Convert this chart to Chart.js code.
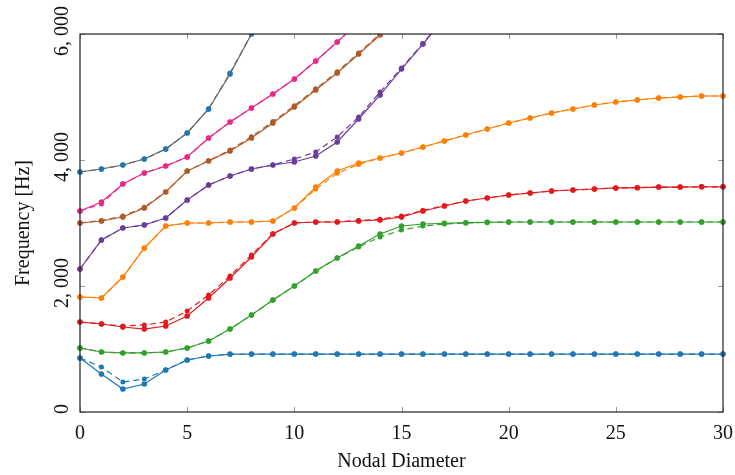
<!DOCTYPE html>
<html>
<head>
<meta charset="utf-8">
<script src="https://cdn.jsdelivr.net/npm/chart.js@4/dist/chart.umd.min.js"></script>
<style>
  html, body { margin: 0; padding: 0; background: #fff; }
  #wrap { width: 735px; height: 475px; }
</style>
</head>
<body>
<div id="wrap"><canvas id="modeChart"></canvas></div>
<script>
// nodal diameter (x axis)
const nodalDiameters = [0,1,2,3,4,5,6,7,8,9,10,11,12,13,14,15,16,17,18,19,20,21,22,23,24,25,26,27,28,29,30];
const yTicks = [0, 2000, 4000, 6000];

// family 1 (blue)
const mode1 = [857,603,365,444,667,825,889,920,920,920,920,920,920,920,920,920,920,920,920,920,920,920,920,920,920,920,920,920,920,920,920];
const mode1b = [857,714,476,524,667,825,889,915,920,920,920,920,920,920,920,920,920,920,920,920,920,920,920,920,920,920,920,920,920,920,920];
// family 2 (green)
const mode2 = [1016,952,937,937,952,1016,1127,1317,1540,1778,2000,2238,2444,2635,2825,2952,2984,2995,3005,3010,3016,3016,3016,3016,3016,3016,3016,3016,3016,3016,3016];
const mode2b = [1016,952,937,937,952,1016,1127,1317,1540,1778,2000,2238,2444,2620,2778,2889,2952,2984,3000,3010,3016,3016,3016,3016,3016,3016,3016,3016,3016,3016,3016];
// family 3 (red)
const mode3 = [1429,1397,1349,1317,1365,1524,1810,2127,2460,2825,3000,3016,3016,3032,3048,3095,3190,3270,3349,3397,3444,3476,3508,3524,3540,3556,3560,3571,3571,3575,3575];
const mode3b = [1429,1397,1365,1381,1429,1603,1857,2159,2492,2830,3000,3016,3020,3040,3060,3110,3200,3275,3349,3397,3444,3476,3508,3524,3540,3556,3560,3571,3571,3575,3575];
// family 4 (orange)
const mode4 = [1825,1810,2143,2603,2952,3000,3000,3016,3016,3032,3238,3571,3825,3952,4032,4111,4206,4302,4397,4492,4587,4667,4746,4810,4873,4921,4952,4984,5000,5016,5016];
const mode4b = [1825,1810,2143,2603,2952,3000,3000,3016,3016,3032,3238,3540,3790,3930,4032,4111,4206,4302,4397,4492,4587,4667,4746,4810,4873,4921,4952,4984,5000,5016,5016];
// family 5 (purple)
const mode5 = [2270,2730,2921,2968,3079,3365,3603,3746,3857,3921,3968,4063,4286,4651,5032,5444,5841,6250];
const mode5b = [2270,2730,2921,2968,3079,3365,3603,3746,3857,3921,4016,4127,4365,4683,5079,5460,5850,6260];
// family 6 (brown)
const mode6 = [3000,3032,3095,3238,3492,3825,3984,4143,4349,4587,4841,5111,5381,5683,5984,6290];
const mode6b = [3000,3040,3110,3250,3492,3825,3990,4160,4370,4610,4860,5130,5400,5700,6000,6300];
// family 7 (pink)
const mode7 = [3190,3333,3619,3794,3905,4048,4349,4603,4825,5048,5286,5571,5873,6190];
const mode7b = [3190,3302,3619,3794,3905,4048,4349,4603,4825,5048,5286,5571,5873,6190];
// family 8 (grey)
const mode8 = [3810,3857,3921,4016,4175,4429,4810,5365,6000,6700];
const mode8b = [3810,3857,3921,4016,4175,4429,4810,5380,6000,6700];

const families = [
  { solid: mode1, dashed: mode1b, line: '#1f78b4', mark: '#1f78b4' },
  { solid: mode2, dashed: mode2b, line: '#33a02c', mark: '#33a02c' },
  { solid: mode3, dashed: mode3b, line: '#e31a1c', mark: '#e31a1c' },
  { solid: mode4, dashed: mode4b, line: '#ff7f00', mark: '#ff7f00' },
  { solid: mode5, dashed: mode5b, line: '#6a3d9a', mark: '#6a3d9a' },
  { solid: mode6, dashed: mode6b, line: '#b15928', mark: '#b15928' },
  { solid: mode7, dashed: mode7b, line: '#e7298a', mark: '#e7298a' },
  { solid: mode8, dashed: mode8b, line: '#666666', mark: '#1f78b4' }
];

function toPoints(values) {
  return values.map((v, i) => ({ x: nodalDiameters[i], y: v }));
}

const datasets = [];
families.forEach(f => {
  datasets.push({
    data: toPoints(f.dashed),
    borderColor: f.line,
    backgroundColor: f.mark,
    borderWidth: 1.2,
    borderDash: [6, 4],
    pointRadius: 2.5,
    pointBorderWidth: 0,
    clip: { left: 5, right: 5, top: 0, bottom: 5 }
  });
  datasets.push({
    data: toPoints(f.solid),
    borderColor: f.line,
    backgroundColor: f.mark,
    borderWidth: 1.2,
    pointRadius: 2.8,
    pointBorderWidth: 0,
    clip: { left: 5, right: 5, top: 0, bottom: 5 }
  });
});

// frame with inward ticks, pgfplots style
const framePlugin = {
  id: 'frame',
  afterDatasetsDraw(chart) {
    const { ctx, chartArea: a, scales: { x, y } } = chart;
    ctx.save();
    ctx.strokeStyle = '#999';
    ctx.lineWidth = 1;
    const len = 5;
    ctx.beginPath();
    x.ticks.forEach(t => {
      const px = Math.round(x.getPixelForValue(t.value)) + 0.5;
      ctx.moveTo(px, a.bottom); ctx.lineTo(px, a.bottom - len);
      ctx.moveTo(px, a.top); ctx.lineTo(px, a.top + len);
    });
    y.ticks.forEach(t => {
      const py = Math.round(y.getPixelForValue(t.value)) + 0.5;
      ctx.moveTo(a.left, py); ctx.lineTo(a.left + len, py);
      ctx.moveTo(a.right, py); ctx.lineTo(a.right - len, py);
    });
    ctx.stroke();
    ctx.strokeStyle = '#222';
    ctx.lineWidth = 1.2;
    ctx.strokeRect(a.left, a.top, a.right - a.left, a.bottom - a.top);
    ctx.restore();
  }
};

const serif = "'Liberation Serif', 'DejaVu Serif', serif";

new Chart(document.getElementById('modeChart'), {
  type: 'line',
  data: { datasets },
  options: {
    responsive: true,
    maintainAspectRatio: false,
    animation: false,
    layout: { padding: { left: 0, right: 12, top: 34, bottom: 0 } },
    plugins: { legend: { display: false }, tooltip: { enabled: false } },
    scales: {
      x: {
        type: 'linear',
        min: 0, max: 30,
        border: { display: false },
        grid: { display: false },
        ticks: {
          stepSize: 5,
          color: '#111',
          padding: 2,
          font: { family: serif, size: 20 }
        },
        title: {
          display: true,
          text: 'Nodal Diameter',
          color: '#111',
          padding: { top: 6, bottom: 1 },
          font: { family: serif, size: 20 }
        },
        afterFit: s => { s.height = 63; }
      },
      y: {
        type: 'linear',
        min: 0, max: 6000,
        border: { display: false },
        grid: { display: false },
        afterBuildTicks: s => { s.ticks = yTicks.map(v => ({ value: v })); },
        ticks: {
          minRotation: 90,
          maxRotation: 90,
          crossAlign: 'center',
          padding: -16,
          labelOffset: -3,
          color: '#111',
          font: { family: serif, size: 20 },
          callback: v => v === 0 ? '0' : v.toLocaleString('en-US').replace(',', ', ')
        },
        title: {
          display: true,
          text: 'Frequency [Hz]',
          color: '#111',
          padding: { top: 12, bottom: 0 },
          font: { family: serif, size: 20 }
        },
        afterFit: s => { s.width = 80; }
      }
    }
  },
  plugins: [framePlugin]
});
</script>
</body>
</html>
